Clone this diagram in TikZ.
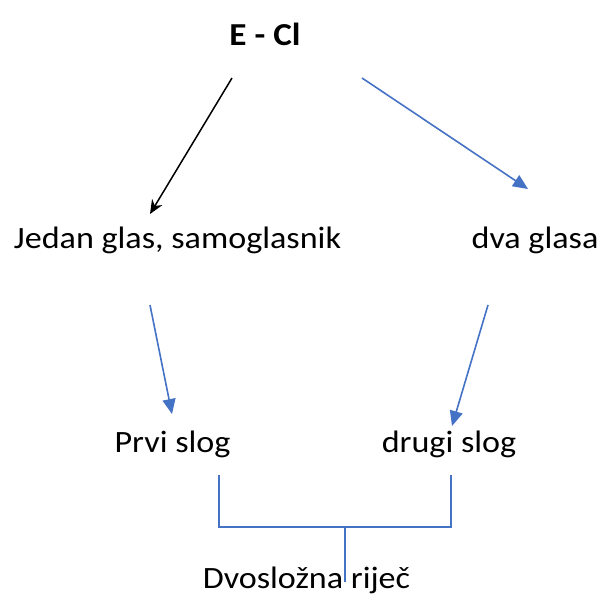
\documentclass[tikz,border=0pt]{standalone}
\usepackage{fontspec}
\setmainfont{Carlito}
\usetikzlibrary{arrows.meta}
\definecolor{lineblue}{HTML}{4472C4}
\tikzset{
  lbl/.style={anchor=base, inner sep=0pt, font=\fontsize{31}{37}\selectfont, text=black, xscale=1.1},
  blk/.style={draw=black, line width=1.5pt, -{Stealth[length=14pt,width=12pt]}},
  blu/.style={draw=lineblue, line width=1.6pt, -{Triangle[length=15pt,width=13pt]}},
  brk/.style={draw=lineblue, line width=1.5pt}
}
\begin{document}
\begin{tikzpicture}[x=1pt,y=-1pt]
\useasboundingbox (0,0) rectangle (604,595);
\node[lbl, font=\fontsize{32}{37}\selectfont\bfseries] (ecl) at (265,45) {E - Cl};
\node[lbl] (jedan) at (177.5,248) {Jedan glas, samoglasnik};
\node[lbl] (dva) at (535,248) {dva glasa};
\node[lbl] (prvi) at (172.5,452) {Prvi slog};
\node[lbl] (drugi) at (449,452) {drugi slog};
\node[lbl] (dvo) at (306.5,588) {Dvosložna riječ};
\coordinate (a1s) at (232,78);
\coordinate (a1e) at (150,214);
\coordinate (a2s) at (362,78);
\coordinate (a2e) at (528,189);
\coordinate (a3s) at (150,305);
\coordinate (a3e) at (172,414);
\coordinate (a4s) at (488,305);
\coordinate (a4e) at (452,426);
\coordinate (bl) at (219,475);
\coordinate (br) at (451,475);
\coordinate (bm) at (345,527);
\coordinate (be) at (345,582);
\draw[blk] (a1s) -- (a1e);
\draw[blu] (a2s) -- (a2e);
\draw[blu] (a3s) -- (a3e);
\draw[blu] (a4s) -- (a4e);
\draw[brk] (bl) |- (bm) -| (br);
\draw[brk] (bm) -- (be);
\end{tikzpicture}
\end{document}
